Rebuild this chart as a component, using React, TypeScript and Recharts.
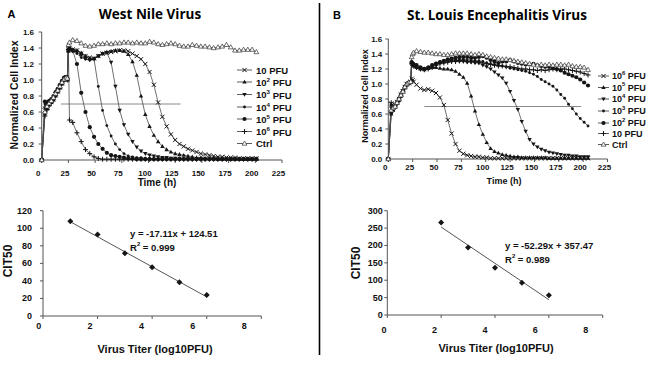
import React from 'react';
import { LineChart, Line, XAxis, YAxis, ReferenceLine, ScatterChart, Scatter } from 'recharts';

const FONT = '"Liberation Sans", Arial, sans-serif';
const TITLE_FONT = '"Open Sans", "Liberation Sans", sans-serif';
const AXIS = '#555';
const LINE = '#4a4a4a';
const MARK = '#151515';

// ---------- Panel A (West Nile Virus) kinetics ----------
const timeA = [0, 3, 5, 7, 9, 11, 13, 15, 17, 19, 21, 23, 24, 25, 26,
  29, 33, 37, 41, 45, 49, 53, 57, 61, 65, 69, 73, 77, 81, 85, 89, 93, 97, 101, 105,
  109, 113, 117, 121, 125, 129, 133, 137, 141, 145, 149, 153, 157, 161, 165, 169, 173, 177, 181, 185,
  189, 193, 197, 201];
const wnv10 = [0, 0.62, 0.66, 0.70, 0.73, 0.76, 0.82, 0.86, 0.91, 0.96, 1.01, 1.03, 1.00, 1.38, 1.40,
  1.38, 1.37, 1.33, 1.30, 1.28, 1.27, 1.30, 1.33, 1.34, 1.35, 1.36, 1.37, 1.37, 1.36, 1.33, 1.30, 1.26, 1.20, 1.10, 0.94,
  0.72, 0.54, 0.42, 0.32, 0.25, 0.20, 0.17, 0.14, 0.12, 0.10, 0.08, 0.07, 0.06, 0.05, 0.04, 0.04, 0.03, 0.03, 0.03, 0.02,
  0.02, 0.02, 0.02, 0.02];
const wnv1e2 = [0, 0.58, 0.64, 0.69, 0.72, 0.75, 0.80, 0.85, 0.90, 0.95, 1.00, 1.02, 1.01, 1.36, 1.39,
  1.38, 1.37, 1.34, 1.30, 1.27, 1.27, 1.30, 1.33, 1.35, 1.36, 1.37, 1.37, 1.36, 1.32, 1.23, 1.06, 0.80, 0.57, 0.42, 0.31,
  0.23, 0.17, 0.13, 0.10, 0.08, 0.07, 0.06, 0.05, 0.04, 0.03, 0.03, 0.02, 0.02, 0.02, 0.01, 0.01, 0.01, 0.01, 0.01, 0.01,
  0.01, 0.01, 0.01, 0.01];
const wnv1e3 = [0, 0.65, 0.68, 0.70, 0.74, 0.77, 0.83, 0.87, 0.92, 0.97, 1.02, 1.04, 1.00, 1.36, 1.38,
  1.36, 1.35, 1.31, 1.27, 1.25, 1.26, 1.30, 1.33, 1.34, 1.22, 0.92, 0.62, 0.44, 0.32, 0.23, 0.16, 0.11, 0.08, 0.06, 0.05,
  0.04, 0.03, 0.03, 0.02, 0.02, 0.02, 0.01, 0.01, 0.01, 0.01, 0.01, 0.01, 0.01, 0.01, 0.01, 0.01, 0.01, 0.01, 0.01, 0.01,
  0.01, 0.01, 0.01, 0.01];
const wnv1e4 = [0, 0.70, 0.70, 0.72, 0.75, 0.79, 0.84, 0.88, 0.93, 0.98, 1.02, 1.03, 1.01, 1.37, 1.39,
  1.36, 1.33, 1.28, 1.26, 1.25, 1.26, 0.92, 0.62, 0.43, 0.30, 0.20, 0.13, 0.08, 0.05, 0.04, 0.03, 0.03, 0.02, 0.02, 0.01,
  0.01, 0.01, 0.01, 0.01, 0.01, 0.01, 0.01, 0.01, 0.01, 0.01, 0.01, 0.01, 0.01, 0.01, 0.01, 0.01, 0.01, 0.01, 0.01, 0.01,
  0.01, 0.01, 0.01, 0.01];
const wnv1e5 = [0, 0.73, 0.72, 0.74, 0.76, 0.80, 0.85, 0.89, 0.94, 0.99, 1.03, 1.04, 1.02, 1.38, 1.40,
  1.37, 1.20, 0.84, 0.60, 0.41, 0.29, 0.20, 0.14, 0.09, 0.06, 0.05, 0.04, 0.03, 0.02, 0.02, 0.01, 0.01, 0.01, 0.01, 0.01,
  0.01, 0.01, 0.01, 0.01, 0.01, 0.01, 0.01, 0.01, 0.01, 0.01, 0.01, 0.01, 0.01, 0.01, 0.01, 0.01, 0.01, 0.01, 0.01, 0.01,
  0.01, 0.01, 0.01, 0.01];
const wnv1e6 = [0, 0.55, 0.63, 0.68, 0.72, 0.76, 0.81, 0.86, 0.90, 0.96, 1.00, 1.02, 1.00, 1.38, 0.50,
  0.47, 0.34, 0.23, 0.13, 0.08, 0.04, 0.02, 0.01, 0.01, 0.01, 0.01, 0.01, 0.01, 0.01, 0.01, 0.01, 0.01, 0.01, 0.01, 0.01,
  0.01, 0.01, 0.01, 0.01, 0.01, 0.01, 0.01, 0.01, 0.01, 0.01, 0.01, 0.01, 0.01, 0.01, 0.01, 0.01, 0.01, 0.01, 0.01, 0.01,
  0.01, 0.01, 0.01, 0.01];
const wnvCtrl = [0, 0.60, 0.67, 0.71, 0.74, 0.78, 0.83, 0.87, 0.92, 0.97, 1.01, 1.03, 1.02, 1.44, 1.47,
  1.50, 1.49, 1.46, 1.43, 1.42, 1.43, 1.45, 1.45, 1.46, 1.45, 1.46, 1.46, 1.47, 1.47, 1.46, 1.47, 1.46, 1.46, 1.48, 1.47,
  1.45, 1.44, 1.45, 1.46, 1.45, 1.43, 1.42, 1.42, 1.44, 1.43, 1.42, 1.42, 1.41, 1.40, 1.41, 1.42, 1.44, 1.41, 1.37, 1.37,
  1.38, 1.38, 1.38, 1.35];

// ---------- Panel B (St. Louis Encephalitis Virus) kinetics ----------
const timeB = [0, 3, 5, 7, 9, 11, 13, 15, 17, 19, 21, 23, 24, 25, 26,
  29, 33, 37, 41, 45, 49, 53, 57, 61, 65, 69, 73, 77, 81, 85, 89, 93, 97, 101, 105,
  109, 113, 117, 121, 125, 129, 133, 137, 141, 145, 149, 153, 157, 161, 165, 169, 173, 177, 181, 185,
  189, 193, 197, 201, 205];
const sle1e6 = [0, 0.74, 0.70, 0.72, 0.76, 0.80, 0.86, 0.90, 0.96, 1.00, 1.01, 1.03, 1.07, 1.05, 1.03,
  0.99, 0.94, 0.92, 0.93, 0.91, 0.88, 0.82, 0.72, 0.52, 0.34, 0.20, 0.11, 0.07, 0.05, 0.04, 0.03, 0.03, 0.02, 0.02, 0.01,
  0.01, 0.01, 0.01, 0.01, 0.01, 0.01, 0.01, 0.01, 0.01, 0.01, 0.01, 0.01, 0.01, 0.01, 0.01, 0.01, 0.01, 0.01, 0.01, 0.01,
  0.01, 0.01, 0.01, 0.01, 0.01];
const sle1e5 = [0, 0.60, 0.65, 0.69, 0.74, 0.79, 0.84, 0.90, 0.95, 0.99, 1.02, 1.04, 1.28, 1.26, 1.25,
  1.22, 1.20, 1.19, 1.21, 1.22, 1.22, 1.21, 1.20, 1.20, 1.19, 1.17, 1.13, 1.09, 1.01, 0.84, 0.64, 0.46, 0.33, 0.22, 0.14,
  0.10, 0.08, 0.06, 0.05, 0.04, 0.03, 0.03, 0.02, 0.02, 0.02, 0.02, 0.02, 0.02, 0.02, 0.01, 0.01, 0.01, 0.01, 0.01, 0.01,
  0.01, 0.01, 0.01, 0.01, 0.01];
const sle1e4 = [0, 0.68, 0.67, 0.71, 0.75, 0.80, 0.86, 0.91, 0.96, 1.00, 1.02, 1.03, 1.28, 1.27, 1.26,
  1.25, 1.22, 1.20, 1.22, 1.25, 1.27, 1.28, 1.29, 1.30, 1.30, 1.30, 1.30, 1.30, 1.29, 1.29, 1.28, 1.28, 1.25, 1.23, 1.20,
  1.16, 1.12, 1.08, 1.01, 0.90, 0.78, 0.66, 0.50, 0.37, 0.26, 0.20, 0.16, 0.13, 0.11, 0.09, 0.08, 0.07, 0.06, 0.05, 0.05,
  0.04, 0.04, 0.03, 0.03, 0.03];
const sle1e3 = [0, 0.72, 0.68, 0.70, 0.74, 0.79, 0.85, 0.90, 0.95, 0.99, 1.01, 1.03, 1.30, 1.28, 1.27,
  1.26, 1.23, 1.21, 1.23, 1.26, 1.28, 1.30, 1.31, 1.32, 1.32, 1.33, 1.33, 1.33, 1.32, 1.32, 1.31, 1.31, 1.30, 1.28, 1.27,
  1.26, 1.25, 1.24, 1.23, 1.21, 1.20, 1.19, 1.18, 1.17, 1.15, 1.13, 1.10, 1.06, 1.03, 1.00, 0.97, 0.92, 0.86, 0.81, 0.73,
  0.67, 0.60, 0.54, 0.49, 0.44];
const sle1e2 = [0, 0.62, 0.66, 0.70, 0.74, 0.78, 0.84, 0.90, 0.96, 0.99, 1.02, 1.03, 1.29, 1.27, 1.26,
  1.24, 1.21, 1.20, 1.21, 1.24, 1.27, 1.29, 1.31, 1.33, 1.34, 1.35, 1.36, 1.36, 1.36, 1.35, 1.35, 1.36, 1.37, 1.35, 1.32,
  1.30, 1.28, 1.30, 1.30, 1.32, 1.30, 1.28, 1.27, 1.26, 1.26, 1.27, 1.25, 1.24, 1.23, 1.23, 1.21, 1.20, 1.18, 1.15, 1.13,
  1.11, 1.09, 1.06, 1.02, 0.98];
const sle10 = [0, 0.75, 0.69, 0.71, 0.75, 0.80, 0.85, 0.90, 0.95, 0.99, 1.01, 1.02, 1.27, 1.25, 1.24,
  1.22, 1.20, 1.19, 1.20, 1.22, 1.25, 1.27, 1.28, 1.29, 1.30, 1.30, 1.31, 1.31, 1.30, 1.30, 1.30, 1.29, 1.28, 1.27, 1.26,
  1.25, 1.24, 1.24, 1.23, 1.23, 1.22, 1.21, 1.20, 1.20, 1.19, 1.19, 1.18, 1.19, 1.18, 1.19, 1.20, 1.19, 1.20, 1.20, 1.19,
  1.18, 1.17, 1.16, 1.14, 1.12];
const sleCtrl = [0, 0.65, 0.68, 0.70, 0.75, 0.80, 0.85, 0.90, 0.96, 1.00, 1.02, 1.03, 1.36, 1.40, 1.42,
  1.44, 1.43, 1.42, 1.42, 1.41, 1.40, 1.40, 1.39, 1.39, 1.40, 1.41, 1.41, 1.41, 1.41, 1.40, 1.39, 1.40, 1.39, 1.37, 1.36,
  1.35, 1.34, 1.33, 1.33, 1.32, 1.31, 1.30, 1.29, 1.28, 1.27, 1.26, 1.25, 1.26, 1.25, 1.26, 1.25, 1.26, 1.26, 1.25, 1.26,
  1.24, 1.23, 1.23, 1.22, 1.19];

// ---------- CIT50 vs titer ----------
const titerA = [1, 2, 3, 4, 5, 6];
const cit50A = [108, 93, 71.5, 55.5, 38.5, 24];
const trendTiterA = [1, 6];
const trendCitA = [107.4, 21.8];
const titerB = [2, 3, 4, 5, 6];
const cit50B = [266, 194, 136, 93, 57];
const trendTiterB = [2, 6];
const trendCitB = [253, 44];

// ---------- ticks & thresholds ----------
const timeTicks = [0, 25, 50, 75, 100, 125, 150, 175, 200, 225];
const cellIndexTicks = [0, 0.2, 0.4, 0.6, 0.8, 1.0, 1.2, 1.4, 1.6];
const titerTicks = [0, 2, 4, 6, 8];
const citTicksA = [0, 20, 40, 60, 80, 100, 120];
const citTicksB = [0, 50, 100, 150, 200, 250, 300];
const thresholdA = { from: 18, to: 130, level: 0.7 };
const thresholdB = { from: 37, to: 198, level: 0.7 };

const rowsA = timeA.map((t, i) => ({
  t, s1: wnv10[i], s2: wnv1e2[i], s3: wnv1e3[i], s4: wnv1e4[i], s5: wnv1e5[i], s6: wnv1e6[i], s7: wnvCtrl[i],
}));
const rowsB = timeB.map((t, i) => ({
  t, s1: sle1e6[i], s2: sle1e5[i], s3: sle1e4[i], s4: sle1e3[i], s5: sle1e2[i], s6: sle10[i], s7: sleCtrl[i],
}));
const pointsA = titerA.map((x, i) => ({ x, y: cit50A[i] }));
const pointsB = titerB.map((x, i) => ({ x, y: cit50B[i] }));
const trendA = trendTiterA.map((x, i) => ({ x, y: trendCitA[i] }));
const trendB = trendTiterB.map((x, i) => ({ x, y: trendCitB[i] }));

const SHAPES = ['x', 'tri', 'dtri', 'sdot', 'dot', 'plus', 'otri'];
const legendA = [
  { base: '10', sup: '', rest: ' PFU' },
  { base: '10', sup: '2', rest: ' PFU' },
  { base: '10', sup: '3', rest: ' PFU' },
  { base: '10', sup: '4', rest: ' PFU' },
  { base: '10', sup: '5', rest: ' PFU' },
  { base: '10', sup: '6', rest: ' PFU' },
  { base: 'Ctrl', sup: '', rest: '' },
];
const legendB = [
  { base: '10', sup: '6', rest: ' PFU' },
  { base: '10', sup: '5', rest: ' PFU' },
  { base: '10', sup: '4', rest: ' PFU' },
  { base: '10', sup: '3', rest: ' PFU' },
  { base: '10', sup: '2', rest: ' PFU' },
  { base: '10', sup: '', rest: ' PFU' },
  { base: 'Ctrl', sup: '', rest: '' },
];

function Marker({ shape, cx, cy, s = 1 }: { shape: string; cx: number; cy: number; s?: number }) {
  switch (shape) {
    case 'x':
      return (
        <g stroke={MARK} strokeWidth={1}>
          <line x1={cx - 2.1 * s} y1={cy - 2.1 * s} x2={cx + 2.1 * s} y2={cy + 2.1 * s} />
          <line x1={cx - 2.1 * s} y1={cy + 2.1 * s} x2={cx + 2.1 * s} y2={cy - 2.1 * s} />
        </g>
      );
    case 'tri':
      return <polygon points={`${cx},${cy - 2.3 * s} ${cx + 2.2 * s},${cy + 1.6 * s} ${cx - 2.2 * s},${cy + 1.6 * s}`} fill={MARK} />;
    case 'dtri':
      return <polygon points={`${cx},${cy + 2.3 * s} ${cx + 2.2 * s},${cy - 1.6 * s} ${cx - 2.2 * s},${cy - 1.6 * s}`} fill={MARK} />;
    case 'sdot':
      return <circle cx={cx} cy={cy} r={1.4 * s} fill={MARK} />;
    case 'dot':
      return <circle cx={cx} cy={cy} r={2.1 * s} fill={MARK} />;
    case 'plus':
      return (
        <g stroke={MARK} strokeWidth={1}>
          <line x1={cx - 2.5 * s} y1={cy} x2={cx + 2.5 * s} y2={cy} />
          <line x1={cx} y1={cy - 2.5 * s} x2={cx} y2={cy + 2.5 * s} />
        </g>
      );
    default:
      return <polygon points={`${cx},${cy - 2.5 * s} ${cx + 2.4 * s},${cy + 1.7 * s} ${cx - 2.4 * s},${cy + 1.7 * s}`} fill="#fff" stroke="#333" strokeWidth={0.7} />;
  }
}

const makeDot = (shape: string) => (p: any) => {
  const key = `${shape}-${p.index}`;
  if (p.cx == null || p.cy == null || isNaN(p.cx) || isNaN(p.cy)) return <g key={key} />;
  return <g key={key}><Marker shape={shape} cx={p.cx} cy={p.cy} /></g>;
};

const makeXTick = (gap: number, dxFn: (i: number) => number, fs: number) => (p: any) => (
  <text key={`xt-${p.index}`} x={p.x + dxFn(p.index)} y={p.y - 5 + gap} textAnchor="middle" dominantBaseline="central"
    fontSize={fs} fontWeight="bold" fontFamily={FONT} fill="#111">{p.payload.value}</text>
);
const makeYTick = (gap: number, fs: number, fmt: (v: number) => string) => (p: any) => (
  <text key={`yt-${p.index}`} x={p.x + 5 - gap} y={p.y} textAnchor="end" dominantBaseline="central"
    fontSize={fs} fontWeight="bold" fontFamily={FONT} fill="#111">{fmt(p.payload.value)}</text>
);

function KineticChart({ rows, left, margin, th, xGap, xDx, yGap }: any) {
  return (
    <div style={{ position: 'absolute', left, top: 0 }}>
      <LineChart width={325} height={195} data={rows} margin={margin}>
        <XAxis type="number" dataKey="t" domain={[0, 225]} ticks={timeTicks} interval={0} height={20}
          tickSize={3} tickMargin={2} stroke={AXIS} tick={makeXTick(xGap, () => xDx, 8)} />
        <YAxis type="number" domain={[0, 1.6]} ticks={cellIndexTicks} interval={0} width={30}
          tickSize={3} tickMargin={2} stroke={AXIS} tick={makeYTick(yGap, 8, (v) => v.toFixed(1))} />
        <ReferenceLine segment={[{ x: th.from, y: th.level }, { x: th.to, y: th.level }]} stroke="#8a8a8a" strokeWidth={1} />
        {SHAPES.map((shape, i) => (
          <Line key={`s${i + 1}`} dataKey={`s${i + 1}`} type="linear" stroke={LINE} strokeWidth={0.8}
            dot={makeDot(shape)} activeDot={false} isAnimationActive={false} />
        ))}
      </LineChart>
    </div>
  );
}

const diamond = (p: any) => {
  const { cx, cy } = p;
  return <polygon points={`${cx},${cy - 3} ${cx + 3},${cy} ${cx},${cy + 3} ${cx - 3},${cy}`} fill={MARK} />;
};

function TiterChart({ left, margin, points, trend, yMax, yTicks, yGap, xGap, xLabelDx }: any) {
  return (
    <div style={{ position: 'absolute', left, top: 195 }}>
      <ScatterChart width={325} height={171} margin={margin}>
        <XAxis type="number" dataKey="x" domain={[0, 8]} ticks={titerTicks} interval={0} height={20}
          tickSize={3} tickMargin={2} stroke={AXIS} tick={makeXTick(xGap, xLabelDx, 9)} />
        <YAxis type="number" dataKey="y" domain={[0, yMax]} ticks={yTicks} interval={0} width={30}
          tickSize={3} tickMargin={2} stroke={AXIS} tick={makeYTick(yGap, 9, (v) => String(v))} />
        <Scatter data={trend} line={{ stroke: '#555', strokeWidth: 1 }} shape={() => <g />} isAnimationActive={false} />
        <Scatter data={points} shape={diamond} isAnimationActive={false} />
      </ScatterChart>
    </div>
  );
}

function LegendBlock({ items, x1, x2, tx, rows, fs }: any) {
  return (
    <g>
      {items.map((it: any, i: number) => (
        <g key={i}>
          <line x1={x1} y1={rows[i]} x2={x2} y2={rows[i]} stroke={LINE} strokeWidth={0.9} />
          <Marker shape={SHAPES[i]} cx={(x1 + x2) / 2} cy={rows[i]} />
          <text x={tx} y={rows[i]} dominantBaseline="central" fontSize={fs} fontWeight="bold" fontFamily={FONT} fill="#111">
            {it.base}
            {it.sup ? <tspan dy={-3.5} fontSize={fs * 0.65}>{it.sup}</tspan> : null}
            {it.sup ? <tspan dy={3.5}>{it.rest}</tspan> : <tspan>{it.rest}</tspan>}
          </text>
        </g>
      ))}
    </g>
  );
}

const bold = { fontWeight: 'bold' as const, fontFamily: FONT, fill: '#111' };

export default function App() {
  return (
    <div style={{ position: 'fixed', left: 0, top: 0, width: 650, height: 366, background: '#fff', overflow: 'hidden' }}>
      <KineticChart rows={rowsA} left={0} margin={{ top: 32, right: 43, bottom: 15, left: 11.7 }} th={thresholdA} xGap={13} xDx={-3.5} yGap={7.7} />
      <KineticChart rows={rowsB} left={325} margin={{ top: 39, right: 42.5, bottom: 16, left: 33.3 }} th={thresholdB} xGap={8} xDx={-3} yGap={6} />
      <TiterChart left={0} margin={{ top: 15.7, right: 63.7, bottom: 30, left: 13 }} points={pointsA} trend={trendA}
        yMax={120} yTicks={citTicksA} yGap={11} xGap={10} xLabelDx={(i: number) => -4.3 - 3.2 * i} />
      <TiterChart left={325} margin={{ top: 15.7, right: 47.3, bottom: 31, left: 32.3 }} points={pointsB} trend={trendB}
        yMax={300} yTicks={citTicksB} yGap={4.5} xGap={15} xLabelDx={(i: number) => -3.3 - 3.4 * i} />
      <svg width={650} height={366} style={{ position: 'absolute', left: 0, top: 0, pointerEvents: 'none' }}>
        <line x1={319.5} y1={3} x2={319.5} y2={355} stroke="#000" strokeWidth={1.6} />
        <text x={11.5} y={14} textAnchor="middle" dominantBaseline="central" fontSize={11} {...bold} fill="#000">A</text>
        <text x={337} y={15} textAnchor="middle" dominantBaseline="central" fontSize={11} {...bold} fill="#000">B</text>
        <text x={150} y={14} textAnchor="middle" dominantBaseline="central" fontSize={13.5} fontWeight="bold" fontFamily={TITLE_FONT} fill="#000">West Nile Virus</text>
        <text x={497} y={15} textAnchor="middle" dominantBaseline="central" fontSize={13.5} fontWeight="bold" fontFamily={TITLE_FONT} fill="#000">St. Louis Encephalitis Virus</text>
        <text transform="translate(13.5,95) rotate(-90)" textAnchor="middle" dominantBaseline="central" fontSize={10.5} {...bold}>Normalized Cell Index</text>
        <text transform="translate(364.5,96) rotate(-90)" textAnchor="middle" dominantBaseline="central" fontSize={9} {...bold}>Normalized Cell Index</text>
        <text x={157} y={182} textAnchor="middle" dominantBaseline="central" fontSize={10} {...bold}>Time (h)</text>
        <text x={504} y={181} textAnchor="middle" dominantBaseline="central" fontSize={9} {...bold}>Time (h)</text>
        <text transform="translate(8,261) rotate(-90)" textAnchor="middle" dominantBaseline="central" fontSize={12} {...bold}>CIT50</text>
        <text transform="translate(356,263) rotate(-90)" textAnchor="middle" dominantBaseline="central" fontSize={12} {...bold}>CIT50</text>
        <text x={155} y={349} textAnchor="middle" dominantBaseline="central" fontSize={11} {...bold}>Virus Titer (log10PFU)</text>
        <text x={496} y={348} textAnchor="middle" dominantBaseline="central" fontSize={11} {...bold}>Virus Titer (log10PFU)</text>
        <text x={130} y={233} dominantBaseline="central" fontSize={9.5} {...bold}>y = -17.11x + 124.51</text>
        <text x={130} y={247} dominantBaseline="central" fontSize={9.5} {...bold}>R<tspan dy={-3.5} fontSize={6}>2</tspan><tspan dy={3.5}>{' = 0.999'}</tspan></text>
        <text x={505} y={245} dominantBaseline="central" fontSize={9.5} {...bold}>y = -52.29x + 357.47</text>
        <text x={505} y={259} dominantBaseline="central" fontSize={9.5} {...bold}>R<tspan dy={-3.5} fontSize={6}>2</tspan><tspan dy={3.5}>{' = 0.989'}</tspan></text>
        <LegendBlock items={legendA} x1={237} x2={252} tx={256} rows={[70, 82, 94.5, 107, 119, 131.5, 143.5]} fs={9.5} />
        <LegendBlock items={legendB} x1={598} x2={609} tx={612} rows={[76, 87.5, 99, 111, 123, 133.5, 144.5]} fs={9} />
      </svg>
    </div>
  );
}
